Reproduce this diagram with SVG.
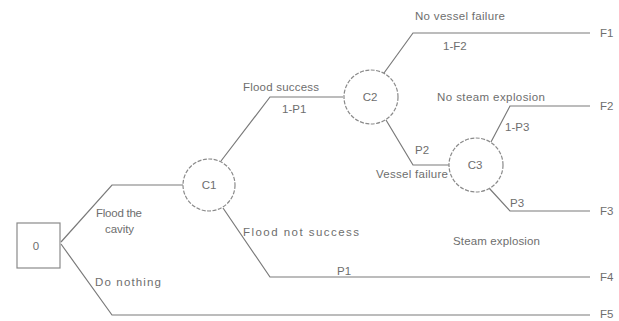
<svg xmlns="http://www.w3.org/2000/svg" width="619" height="321" viewBox="0 0 619 321">
<style>
.ln{fill:none;stroke:#7a7a7a;stroke-width:1.2}
.nd{fill:#fff;stroke:#8a8a8a;stroke-width:1.2}
.ch{fill:#fff;stroke:#8a8a8a;stroke-width:1.2;stroke-dasharray:4 1.5}
text{font-family:"Liberation Sans",Arial,sans-serif;font-size:11.5px;fill:#6e6e6e}
.c{text-anchor:middle}
</style>
<rect width="619" height="321" fill="#fff"/>
<g id="connectors">
<polyline class="ln" points="61,242 112,185 183,185"/>
<polyline class="ln" points="61,244 112,315 590,315"/>
<polyline class="ln" points="221,161 270,97 343,97"/>
<polyline class="ln" points="223,208 270,277 590,277"/>
<polyline class="ln" points="384,73 413,33 590,33"/>
<polyline class="ln" points="386,120 413,165 449,165"/>
<polyline class="ln" points="491,142 510,106 590,106"/>
<polyline class="ln" points="489,188 510,211 590,211"/>
</g>
<g id="n0"><rect class="nd" x="17" y="223" width="43" height="45"/><text class="c" x="36" y="250">0</text></g>
<g id="c1"><circle class="ch" cx="209" cy="185" r="26"/><text class="c" x="209" y="189">C1</text></g>
<g id="c2"><circle class="ch" cx="371" cy="97" r="27"/><text class="c" x="370" y="101">C2</text></g>
<g id="c3"><circle class="ch" cx="476" cy="165" r="27"/><text class="c" x="475" y="169">C3</text></g>
<g id="labels">
<text x="96" y="217" textLength="46">Flood the</text>
<text x="105" y="233" textLength="29">cavity</text>
<text x="95" y="286" textLength="66">Do nothing</text>
<text x="243" y="91" textLength="76">Flood success</text>
<text x="282" y="113">1-P1</text>
<text x="243" y="236" textLength="116">Flood not success</text>
<text x="337" y="275">P1</text>
<text x="415" y="20" textLength="90">No vessel failure</text>
<text x="443" y="50">1-F2</text>
<text x="415" y="154">P2</text>
<text x="376" y="178" textLength="72">Vessel failure</text>
<text x="437" y="101" textLength="108">No steam explosion</text>
<text x="505" y="131">1-P3</text>
<text x="510" y="207">P3</text>
<text x="453" y="245" textLength="87">Steam explosion</text>
<text x="600" y="37">F1</text>
<text x="600" y="110">F2</text>
<text x="600" y="215">F3</text>
<text x="600" y="281">F4</text>
<text x="600" y="318">F5</text>
</g>
</svg>
